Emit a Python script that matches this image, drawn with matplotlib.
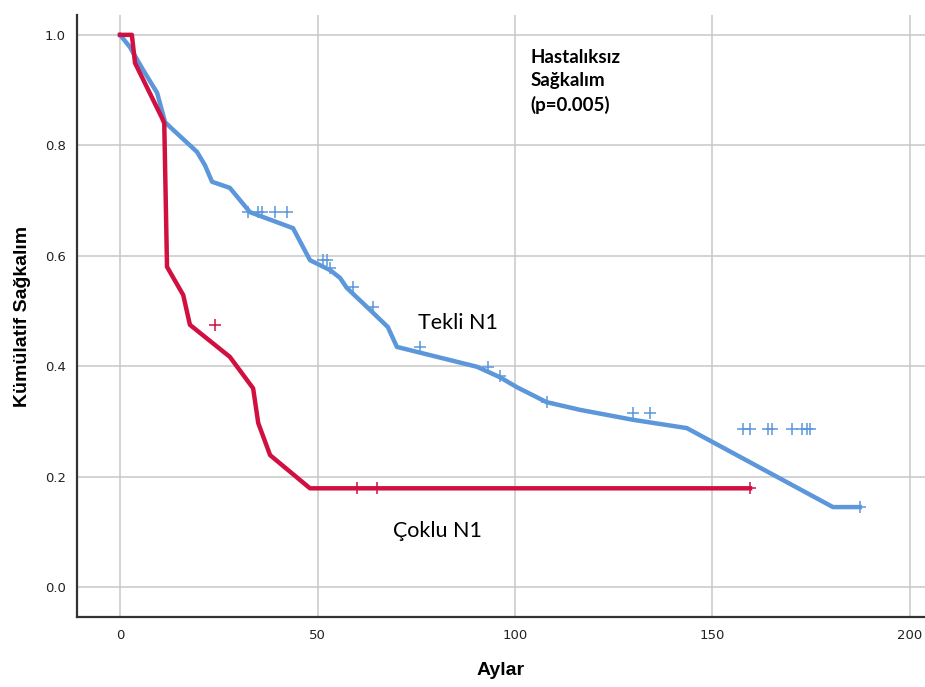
import numpy as np
import matplotlib.pyplot as plt

# survival curves (months, cumulative survival)
tekli_t = [0, 2.5, 5.8, 9.4, 11.4, 12.7, 19.5, 21.5, 23.3, 27.8, 32.9, 43.8, 48.1,
           53.2, 55.7, 57.4, 63.3, 67.8, 70.1, 90.4, 96.2, 100.5, 108, 116.5,
           129.9, 143.5, 180.5, 187.3]
tekli_s = [1.0, 0.978, 0.937, 0.895, 0.842, 0.833, 0.788, 0.764, 0.734, 0.723, 0.679,
           0.650, 0.592, 0.574, 0.560, 0.542, 0.502, 0.471, 0.435, 0.399, 0.380,
           0.362, 0.335, 0.321, 0.303, 0.288, 0.145, 0.145]
tekli_cens_t = [32.4, 35, 36, 39.2, 42.3, 51.4, 52.5, 53.2, 59, 64, 76, 93.2, 96.2, 108,
                129.9, 134.2, 157.7, 159.5, 164.1, 165.1, 170.1, 172.7, 173.9, 174.7, 187.3]
tekli_cens_s = [0.679, 0.679, 0.679, 0.679, 0.679, 0.592, 0.592, 0.578, 0.544, 0.507,
                0.435, 0.399, 0.382, 0.335, 0.315, 0.315, 0.286, 0.286, 0.286, 0.286,
                0.286, 0.286, 0.286, 0.286, 0.145]

coklu_t = [0, 3, 3.8, 8.4, 10.6, 11.2, 11.9, 16, 17.7, 27.8, 33.7, 35, 38, 48.1, 159.5]
coklu_s = [1.0, 1.0, 0.949, 0.882, 0.85, 0.84, 0.58, 0.529, 0.475, 0.417, 0.36, 0.297,
           0.239, 0.179, 0.179]
coklu_cens_t = [24, 60, 65, 159.5]
coklu_cens_s = [0.475, 0.179, 0.179, 0.179]

xticks = [0, 50, 100, 150, 200]
yticks = [0.0, 0.2, 0.4, 0.6, 0.8, 1.0]

blue = '#5b97da'
red = '#cf1040'

fig = plt.figure(figsize=(9.25, 6.87), dpi=100)
ax = fig.add_axes([0.0832, 0.1019, 0.9168, 0.8763])

ax.plot(tekli_t, tekli_s, color=blue, linewidth=3.2, solid_joinstyle='round')
ax.plot(coklu_t, coklu_s, color=red, linewidth=3.2, solid_joinstyle='round')
ax.plot(tekli_cens_t, tekli_cens_s, '+', color=blue, markersize=8, markeredgewidth=1.1)
ax.plot(coklu_cens_t, coklu_cens_s, '+', color=red, markersize=8, markeredgewidth=1.1)

ax.set_xlim(-10.9, 203.8)
ax.set_ylim(-0.054, 1.036)
ax.set_xticks(xticks)
ax.set_yticks(yticks)
ax.set_xticklabels([str(v) for v in xticks])
ax.set_yticklabels(['%.1f' % v for v in yticks])
ax.tick_params(length=0, labelsize=9.5, colors='#222222')
ax.tick_params(axis='x', pad=9)
ax.tick_params(axis='y', pad=8)
ax.grid(True, color='#c8c8c8', linewidth=1.1)
ax.set_axisbelow(True)

for s in ['top', 'right']:
    ax.spines[s].set_visible(False)
for s in ['left', 'bottom']:
    ax.spines[s].set_color('#333333')
    ax.spines[s].set_linewidth(1.6)

ax.set_xlabel('Aylar', fontsize=14, fontweight='bold', family='Liberation Sans', labelpad=14)
ax.set_ylabel('Kümülatif Sağkalım', fontsize=14, fontweight='bold', family='Liberation Sans',
              labelpad=10)

ax.text(104, 0.975, 'Hastalıksız\nSağkalım\n(p=0.005)', fontsize=13.5, fontweight='bold',
        family='Lato', va='top', ha='left', linespacing=1.45)
ax.text(75.5, 0.478, 'Tekli N1', fontsize=15.5, family='Lato', va='center', ha='left')
ax.text(69, 0.102, 'Çoklu N1', fontsize=15.5, family='Lato', va='center', ha='left')

fig.savefig('out.png', dpi=100)
